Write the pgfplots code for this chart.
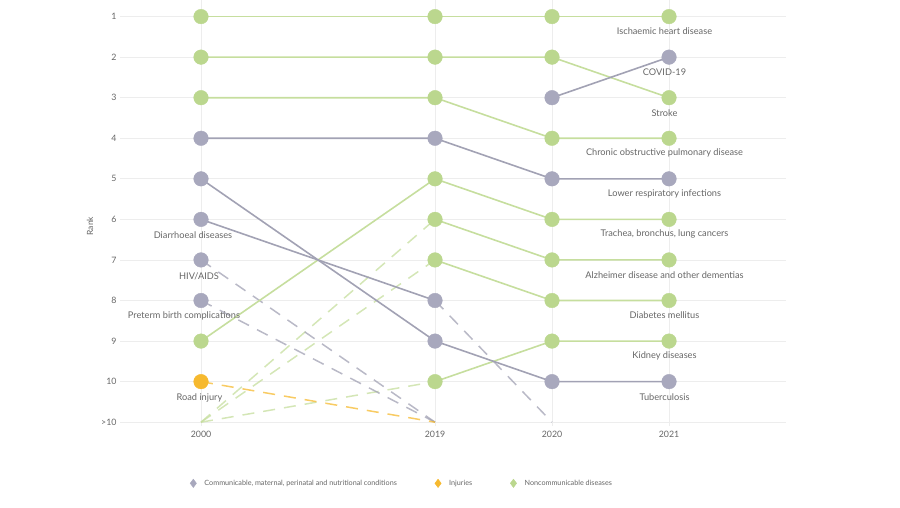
\documentclass[border=0pt]{standalone}
\usepackage{pgfplots}
\pgfplotsset{compat=1.18}
\usepackage{fontspec}
\setmainfont{Lato}
\definecolor{ncd}{HTML}{BBD78E}
\definecolor{ncdline}{HTML}{C6DE9E}
\definecolor{cmn}{HTML}{A8A8BD}
\definecolor{cmnline}{HTML}{A2A2B4}
\definecolor{inj}{HTML}{F6B92F}
\definecolor{gridc}{HTML}{EDEDED}
\definecolor{txt}{HTML}{666666}
\begin{document}
\begin{tikzpicture}
\begin{axis}[
 scale only axis, width=665pt, height=425.25pt,
 xmin=-0.692, xmax=5.0, ymin=0.6, ymax=11.1, y dir=reverse,
 xtick={0,2,3,4}, xticklabels={2000,2019,2020,2021},
 ytick={1,2,3,4,5,6,7,8,9,10,11}, yticklabels={1,2,3,4,5,6,7,8,9,10,>10},
 grid=major, major grid style={gridc, line width=0.7pt},
 axis line style={draw=none}, major tick length=0pt,
 tick label style={font=\fontsize{8.8}{10}\selectfont, text=txt},
 xticklabel style={yshift=-1pt},
 ylabel={Rank},
 ylabel style={at={(axis description cs:-0.045,0.47)}, anchor=center, font=\fontsize{8.5}{9}\selectfont, text=txt},
 clip=false,
 legend columns=3,
 legend cell align=left,
 legend style={draw=none, fill=none, at={(0.4235,-0.134)}, anchor=center,
   font=\fontsize{7.2}{8}\selectfont, text=txt,
   /tikz/every odd column/.append style={column sep=6pt},
   /tikz/every even column/.append style={column sep=36pt}},
]
\addlegendimage{only marks, mark=diamond*, mark size=4.2pt, color=cmn}
\addlegendentry{Communicable, maternal, perinatal and nutritional conditions}
\addlegendimage{only marks, mark=diamond*, mark size=4.2pt, color=inj}
\addlegendentry{Injuries}
\addlegendimage{only marks, mark=diamond*, mark size=4.2pt, color=ncd}
\addlegendentry{Noncommunicable diseases}

% dashed lines
\pgfplotsset{dl/.style={forget plot, line width=1.5pt, dash pattern=on 12pt off 9pt, opacity=0.75}}
\addplot[dl, ncdline] coordinates {(0,11)(2,6)};
\addplot[dl, ncdline] coordinates {(0,11)(2,7)};
\addplot[dl, ncdline] coordinates {(0,11)(2,10)};
\addplot[dl, cmnline] coordinates {(2,8)(3,11)};
\addplot[dl, cmnline] coordinates {(0,7)(2,11)};
\addplot[dl, cmnline] coordinates {(0,8)(2,11)};
\addplot[dl, inj] coordinates {(0,10)(2,11)};

% solid lines
\pgfplotsset{sl/.style={forget plot, line width=1.6pt}}
\addplot[sl, ncdline] coordinates {(0,1)(2,1)(3,1)(4,1)};
\addplot[sl, ncdline] coordinates {(0,2)(2,2)(3,2)(4,3)};
\addplot[sl, ncdline] coordinates {(0,3)(2,3)(3,4)(4,4)};
\addplot[sl, ncdline] coordinates {(0,9)(2,5)(3,6)(4,6)};
\addplot[sl, ncdline] coordinates {(2,6)(3,7)(4,7)};
\addplot[sl, ncdline] coordinates {(2,7)(3,8)(4,8)};
\addplot[sl, ncdline] coordinates {(2,10)(3,9)(4,9)};
\addplot[sl, cmnline] coordinates {(0,4)(2,4)(3,5)(4,5)};
\addplot[sl, cmnline] coordinates {(0,5)(2,9)(3,10)(4,10)};
\addplot[sl, cmnline] coordinates {(0,6)(2,8)};
\addplot[sl, cmnline] coordinates {(3,3)(4,2)};

% markers
\addplot[forget plot, only marks, color=ncd, mark=*, mark size=7.3pt, mark options={draw=ncd, fill=ncd}] coordinates {
(0,1)(0,2)(0,3)(0,9)(2,1)(2,2)(2,3)(2,5)(2,6)(2,7)(2,10)
(3,1)(3,2)(3,4)(3,6)(3,7)(3,8)(3,9)
(4,1)(4,3)(4,4)(4,6)(4,7)(4,8)(4,9)};
\addplot[forget plot, only marks, color=cmn, mark=*, mark size=7.3pt, mark options={draw=cmn, fill=cmn}] coordinates {
(0,4)(0,5)(0,6)(0,7)(0,8)(2,4)(2,8)(2,9)(3,3)(3,5)(3,10)(4,2)(4,5)(4,10)};
\addplot[forget plot, only marks, color=inj, mark=*, mark size=7.3pt, mark options={draw=inj, fill=inj}] coordinates {(0,10)};

% labels
\tikzset{lab/.style={font=\fontsize{9.2}{10}\selectfont, text=txt, inner sep=0pt}}
\node[lab, xshift=-4.5pt, yshift=-15pt] at (axis cs:4,1) {Ischaemic heart disease};
\node[lab, xshift=-4.5pt, yshift=-15pt] at (axis cs:4,2) {COVID-19};
\node[lab, xshift=-4.5pt, yshift=-15pt] at (axis cs:4,3) {Stroke};
\node[lab, xshift=-4.5pt, yshift=-15pt] at (axis cs:4,4) {Chronic obstructive pulmonary disease};
\node[lab, xshift=-4.5pt, yshift=-15pt] at (axis cs:4,5) {Lower respiratory infections};
\node[lab, xshift=-4.5pt, yshift=-15pt] at (axis cs:4,6) {Trachea, bronchus, lung cancers};
\node[lab, xshift=-4.5pt, yshift=-15pt] at (axis cs:4,7) {Alzheimer disease and other dementias};
\node[lab, xshift=-4.5pt, yshift=-15pt] at (axis cs:4,8) {Diabetes mellitus};
\node[lab, xshift=-4.5pt, yshift=-15pt] at (axis cs:4,9) {Kidney diseases};
\node[lab, xshift=-4.5pt, yshift=-15pt] at (axis cs:4,10) {Tuberculosis};
\node[lab, xshift=-8pt, yshift=-15.5pt] at (axis cs:0,6) {Diarrhoeal diseases};
\node[lab, xshift=-2pt, yshift=-16pt] at (axis cs:0,7) {HIV/AIDS};
\node[lab, xshift=-17pt, yshift=-15.5pt] at (axis cs:0,8) {Preterm birth complications};
\node[lab, xshift=-1.5pt, yshift=-16.5pt] at (axis cs:0,10) {Road injury};

\path (axis cs:-1.718,13.099) rectangle (axis cs:5.974,0.605);
\end{axis}
\end{tikzpicture}
\end{document}
